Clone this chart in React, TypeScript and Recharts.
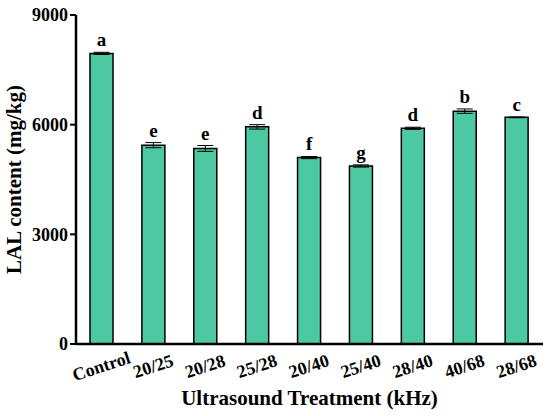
import { BarChart, Bar, XAxis, YAxis, ErrorBar, LabelList } from "recharts";

const treatments = ["Control", "20/25", "20/28", "25/28", "20/40", "25/40", "28/40", "40/68", "28/68"];
const lalContent = [7950, 5440, 5350, 5940, 5100, 4870, 5900, 6370, 6200];
const lalError = [30, 70, 80, 60, 30, 30, 30, 60, 10];
const groupLetters = ["a", "e", "e", "d", "f", "g", "d", "b", "c"];
const yTicks = [0, 3000, 6000, 9000];

const chartData = treatments.map((name, i) => ({
  name,
  value: lalContent[i],
  err: lalError[i],
  letter: groupLetters[i],
}));

const FONT = '"Liberation Serif", "Times New Roman", serif';

const XTick = (props: any) => {
  const { x, y, payload } = props;
  return (
    <text
      x={x}
      y={y + 16}
      transform={`rotate(-18, ${x}, ${y + 16})`}
      textAnchor="middle"
      dominantBaseline="middle"
      fontFamily={FONT}
      fontWeight="bold"
      fontSize={18}
      fill="#000"
    >
      {payload.value}
    </text>
  );
};

const LetterLabel = (props: any) => {
  const { x, y, width, height, index } = props;
  const d = chartData[index];
  const errPx = height > 0 ? (height / d.value) * d.err : 0;
  return (
    <text
      x={x + width / 2}
      y={y - errPx - 6}
      textAnchor="middle"
      fontFamily={FONT}
      fontWeight="bold"
      fontSize={19}
      fill="#000"
    >
      {d.letter}
    </text>
  );
};

export default function App() {
  return (
    <div style={{ width: 550, height: 416, background: "#fff" }}>
      <style>{`body{margin:0}`}</style>
      <BarChart
        width={550}
        height={416}
        data={chartData}
        margin={{ top: 15, right: 7, bottom: 0, left: 0 }}
        barSize={23}
      >
        <XAxis
          dataKey="name"
          height={72}
          axisLine={{ stroke: "#000", strokeWidth: 2.5 }}
          tickLine={false}
          tick={<XTick />}
          interval={0}
          label={{
            value: "Ultrasound Treatment (kHz)",
            position: "insideBottom",
            offset: 11,
            fontFamily: FONT,
            fontWeight: "bold",
            fontSize: 21,
            fill: "#000",
          }}
        />
        <XAxis
          xAxisId="top"
          dataKey="name"
          orientation="top"
          height={0}
          axisLine={{ stroke: "#000", strokeWidth: 2.5 }}
          tickLine={false}
          tick={false}
        />
        <YAxis
          width={76}
          domain={[0, 9000]}
          ticks={yTicks}
          axisLine={{ stroke: "#000", strokeWidth: 2.5 }}
          tickLine={{ stroke: "#000", strokeWidth: 2 }}
          tickSize={6}
          tick={{ fontFamily: FONT, fontWeight: "bold", fontSize: 18, fill: "#000" }}
          label={{
            value: "LAL content (mg/kg)",
            angle: -90,
            position: "insideLeft",
            offset: 14,
            style: { textAnchor: "middle" },
            fontFamily: FONT,
            fontWeight: "bold",
            fontSize: 21,
            fill: "#000",
          }}
        />
        <YAxis
          yAxisId="right"
          orientation="right"
          width={0}
          domain={[0, 9000]}
          axisLine={{ stroke: "#000", strokeWidth: 2.5 }}
          tickLine={false}
          tick={false}
        />
        <Bar
          dataKey="value"
          fill="#4CC8A3"
          stroke="#000"
          strokeWidth={1.5}
          isAnimationActive={false}
        >
          <ErrorBar dataKey="err" width={8} stroke="#000" strokeWidth={1} />
          <LabelList dataKey="letter" content={<LetterLabel />} />
        </Bar>
      </BarChart>
    </div>
  );
}
